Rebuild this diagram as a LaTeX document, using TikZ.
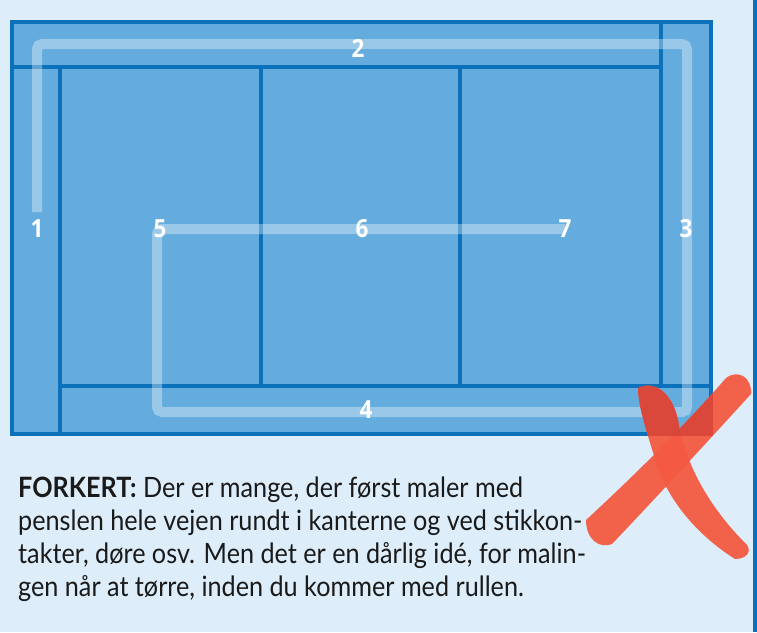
\documentclass[tikz,border=0pt]{standalone}
\usepackage{fontspec}
\setmainfont{Lato}[FakeStretch=0.9]
\newfontfamily\numfont{Open Sans}[FakeStretch=0.9]
\definecolor{bg}{HTML}{DDEEFA}
\definecolor{wall}{HTML}{65ACDE}
\definecolor{edge}{HTML}{0B71BB}
\definecolor{xred}{HTML}{F45A41}
\definecolor{xdark}{HTML}{D8463A}
\definecolor{txt}{HTML}{1A1A1A}
\tikzset{
  wline/.style={edge, line width=3.5pt},
  trail/.style={white, opacity=0.35, line width=10pt, rounded corners=5pt},
  num/.style={text=white, font=\numfont\bfseries\fontsize{25}{25}\selectfont, inner sep=0pt},
}
\begin{document}
\begin{tikzpicture}[x=1pt,y=-1pt]
\useasboundingbox (0,0) rectangle (757,632);
\fill[bg] (0,0) rectangle (757,632);
\draw[wline] (755,0) -- (755,632);
% wall
\fill[wall] (12,22) rectangle (711,434);
\draw[wline] (60,67) -- (60,434);
\draw[wline] (12,67) -- (661,67);
\draw[wline] (661,22) -- (661,386);
\draw[wline] (60,386) -- (711,386);
\draw[wline] (261,67) -- (261,386);
\draw[wline] (460,67) -- (460,386);
\draw[wline] (12,22) rectangle (711,434);
% trail
\coordinate (a1) at (37,212);
\coordinate (a2) at (37,44);
\coordinate (a3) at (687,44);
\coordinate (a4) at (687,412);
\coordinate (a5) at (157,412);
\coordinate (a6) at (157,229);
\coordinate (a7) at (565,229);
\draw[trail] (a1) -- (a2) -- (a3) -- (a4) -- (a5) -- (a6) -- (a7);
% numbers
\node[num] (n1) at (37,229) {1};
\node[num] (n2) at (358,48) {2};
\node[num] (n3) at (686,229) {3};
\node[num] (n4) at (366,410) {4};
\node[num] (n5) at (160,229) {5};
\node[num] (n6) at (362,229) {6};
\node[num] (n7) at (565,229) {7};
% red X
\def\strokeB{(726,378) .. controls (738,369) and (752,377) .. (751,394) .. controls (698,452) and (652,502) .. (612,544) .. controls (600,549) and (586,540) .. (586,520) .. controls (640,470) and (686,424) .. (726,378) -- cycle}
\def\strokeA{(638,388) .. controls (654,380) and (672,392) .. (678,420) .. controls (684,458) and (704,502) .. (747,545) .. controls (752,552) and (746,559) .. (735,559) .. controls (700,537) and (668,502) .. (656,462) .. controls (646,430) and (638,405) .. (638,388) -- cycle}
\fill[xred, fill opacity=0.95] \strokeB;
\fill[xred, fill opacity=0.95] \strokeA;
\begin{scope}
\clip (10.25,20.25) rectangle (712.75,435.75);
\fill[xdark, fill opacity=0.9] \strokeB;
\fill[xdark, fill opacity=0.9] \strokeA;
\end{scope}
% text
\node[anchor=base west, inner sep=0pt, text=txt, align=left,
  font=\fontsize{28}{33}\selectfont] (txt) at (18,596)
  {{\bfseries FORKERT:} Der er mange, der først maler med\\
   penslen hele vejen rundt i kanterne og ved stikkon-\\
   takter, døre osv. Men det er en dårlig idé, for malin-\\
   gen når at tørre, inden du kommer med rullen.};
\end{tikzpicture}
\end{document}
